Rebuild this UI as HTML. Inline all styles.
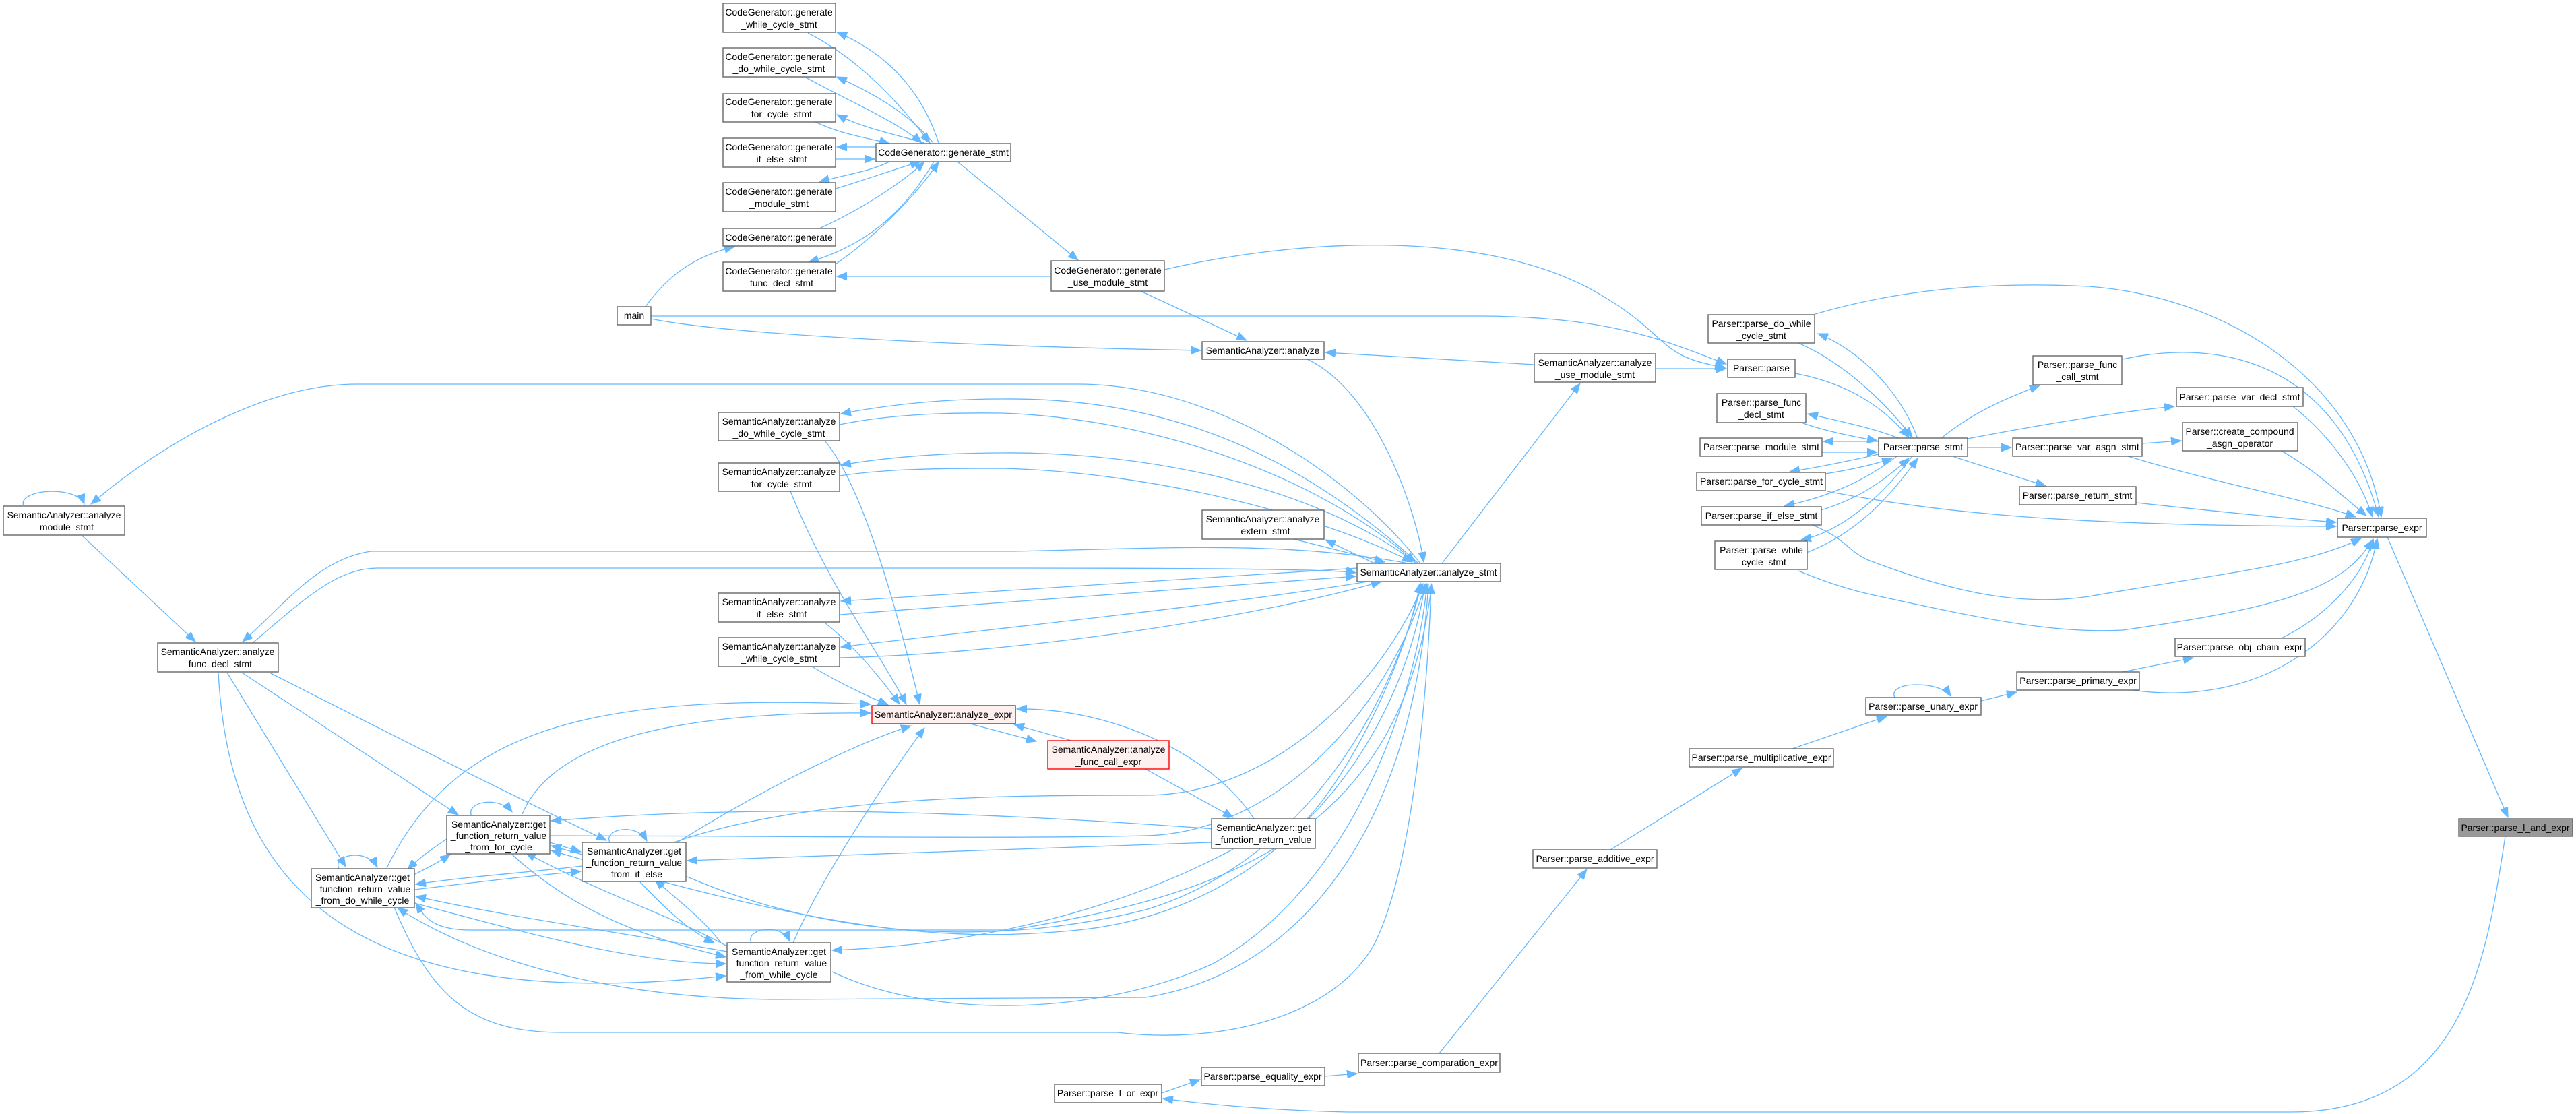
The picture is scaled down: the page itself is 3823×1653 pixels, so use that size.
<!DOCTYPE html>
<html><head><meta charset="utf-8"><style>
html,body{margin:0;padding:0;background:#fff;}
svg{display:block;}
text{font-family:"Liberation Sans",Arial,sans-serif;font-size:14px;fill:#000;text-anchor:middle;}
.n{fill:#fff;stroke:#666;stroke-width:1.4;}
.r{fill:#fff0f0;stroke:#f00;stroke-width:1.4;}
.g{fill:#999;stroke:#666;stroke-width:1.4;}
path{fill:none;stroke:#63b8ff;stroke-width:1.3;}
</style></head><body>
<svg width="3823" height="1653" viewBox="0 0 3823 1653" xmlns="http://www.w3.org/2000/svg">
<defs><marker id="a" markerUnits="userSpaceOnUse" markerWidth="16" markerHeight="12" refX="15" refY="6" orient="auto"><path d="M0,0 L15,6 L0,12 Z" style="fill:#63b8ff;stroke:#63b8ff;stroke-width:1"/></marker></defs>
<g marker-end="url(#a)">
<!-- CodeGenerator cluster -->
<path d="M1393,212 C1370,140 1320,80 1242,48"/>
<path d="M1199,49 C1280,90 1340,160 1380,212"/>
<path d="M1385,212 C1350,170 1300,140 1242,114"/>
<path d="M1196,115 C1260,150 1330,180 1368,212"/>
<path d="M1372,212 C1330,200 1280,190 1242,170"/>
<path d="M1210,181 C1250,200 1290,205 1320,213"/>
<path d="M1300,218 L1242,218"/>
<path d="M1240,236 L1298,236"/>
<path d="M1320,240 C1290,255 1250,260 1216,270"/>
<path d="M1240,280 C1290,265 1330,250 1366,240"/>
<path d="M1216,339 C1280,310 1340,270 1372,240"/>
<path d="M1386,240 C1350,300 1300,360 1200,389"/>
<path d="M1240,392 C1300,350 1360,290 1393,240"/>
<path d="M1421,240 L1600,386"/>
<path d="M1560,410 L1242,410"/>
<!-- main -->
<path d="M958,455 C990,410 1030,380 1090,366"/>
<path d="M966,469 L2200,469 C2400,470 2480,510 2562,540"/>
<path d="M966,473 C1100,500 1500,515 1782,520"/>
<path d="M1693,432 L1850,505"/>
<path d="M1728,400 C1900,360 2200,330 2380,440 C2480,500 2460,530 2560,545"/>
<path d="M2277,541 L1967,523"/>
<path d="M2457,547 L2562,547"/>
<path d="M1940,533 C2040,580 2100,750 2113,834"/>
<path d="M2140,836 L2345,569"/>
<!-- analyze_stmt hub to left nodes -->
<path d="M2108,836 C2000,700 1800,570 1600,570 L530,570 C400,570 250,650 135,748"/>
<path d="M2105,836 C1900,650 1700,590 1487,592 C1400,592 1320,600 1248,614"/>
<path d="M1246,630 C1320,615 1400,612 1487,613 C1700,620 1950,700 2100,834"/>
<path d="M2102,836 C1950,720 1700,670 1487,672 C1400,672 1320,678 1248,690"/>
<path d="M1246,706 C1320,695 1400,695 1487,695 C1700,700 1950,760 2096,834"/>
<path d="M2090,836 C1900,800 1700,815 1500,818 L550,818 C470,830 420,900 360,952"/>
<path d="M375,954 C450,890 500,843 560,843 L1500,843 C1800,843 1990,845 2012,850"/>
<path d="M2014,843 L1248,892"/>
<path d="M1246,912 L2012,855"/>
<path d="M2030,863 C1800,900 1500,930 1248,960"/>
<path d="M1246,976 C1500,970 1850,920 2050,863"/>
<path d="M1920,800 L2055,834"/>
<path d="M2040,836 L1967,801"/>
<!-- SAexpr -->
<path d="M1224,654 C1280,720 1330,900 1365,1045"/>
<path d="M1173,729 C1230,870 1300,960 1345,1045"/>
<path d="M1224,924 C1270,960 1310,1010 1335,1045"/>
<path d="M1205,989 C1240,1010 1280,1030 1318,1046"/>
<path d="M1440,1074 L1538,1100"/>
<path d="M1590,1099 L1505,1075"/>
<path d="M1861,1215 C1800,1120 1650,1050 1509,1052"/>
<path d="M1700,1141 L1830,1213"/>
<path d="M1940,1215 C2000,1150 2080,1000 2108,865"/>
<path d="M775,1208 C820,1100 1000,1055 1292,1058"/>
<path d="M574,1288 C680,1070 900,1030 1292,1045"/>
<path d="M1005,1250 C1150,1160 1280,1100 1352,1077"/>
<path d="M1177,1399 C1220,1300 1320,1150 1372,1080"/>
<!-- func_decl down -->
<path d="M122,795 L290,952"/>
<path d="M359,998 L680,1209"/>
<path d="M337,998 L513,1286"/>
<path d="M400,998 C600,1100 800,1200 900,1247"/>
<path d="M324,998 C340,1300 500,1510 1077,1448"/>
<!-- get cluster -->
<path d="M700,1211 C690,1190 740,1180 760,1205"/>
<path d="M905,1250 C895,1230 945,1220 960,1248"/>
<path d="M503,1289 C493,1268 545,1258 560,1287"/>
<path d="M1115,1399 C1105,1378 1160,1368 1172,1397"/>
<path d="M663,1245 C640,1260 620,1275 605,1290"/>
<path d="M610,1300 C630,1290 650,1280 668,1268"/>
<path d="M864,1268 L818,1255"/>
<path d="M816,1250 L862,1264"/>
<path d="M864,1285 C780,1295 700,1300 617,1312"/>
<path d="M615,1320 C700,1310 780,1300 862,1293"/>
<path d="M1079,1412 C900,1380 750,1360 617,1330"/>
<path d="M615,1340 C800,1390 950,1430 1077,1430"/>
<path d="M1079,1404 C1000,1360 900,1330 780,1265"/>
<path d="M760,1268 C850,1350 950,1390 1077,1420"/>
<path d="M1070,1399 C1040,1360 1010,1340 972,1305"/>
<path d="M950,1309 C990,1350 1020,1380 1060,1399"/>
<path d="M1830,1232 C1400,1200 1100,1195 818,1218"/>
<path d="M1798,1250 L1020,1277"/>
<path d="M1830,1260 C1700,1330 1500,1400 1235,1410"/>
<path d="M1020,1301 C1250,1400 1500,1400 1700,1350 C1900,1290 2050,1100 2110,866"/>
<path d="M2115,866 C2080,1100 1900,1350 1600,1380 C1400,1400 1220,1380 818,1262"/>
<path d="M1235,1442 C1400,1520 1650,1500 1800,1430 C2000,1320 2100,1050 2118,866"/>
<path d="M2120,866 C2100,1200 1950,1440 1700,1480 L1159,1483 C900,1483 700,1420 590,1347"/>
<path d="M584,1344 C640,1480 700,1532 834,1532 L1658,1532 C1810,1550 1980,1510 2040,1400 C2100,1280 2120,1000 2124,866"/>
<path d="M2125,866 C2080,1250 1800,1330 1500,1380 L700,1380 C640,1380 630,1360 617,1340"/>
<path d="M1000,1250 C1200,1180 1500,1180 1700,1180 C1900,1180 2060,1000 2112,866"/>
<path d="M816,1240 C1100,1240 1500,1245 1700,1240 C1900,1235 2060,1050 2116,866"/>
<!-- Parser side -->
<path d="M3543,797 L3722,1213"/>
<path d="M3718,1241 C3690,1420 3660,1650 3400,1650 L2000,1650 C1900,1648 1800,1640 1726,1630"/>
<path d="M1724,1622 L1781,1602"/>
<path d="M1966,1597 L2014,1593"/>
<path d="M2136,1563 L2355,1290"/>
<path d="M2390,1261 L2585,1140"/>
<path d="M2660,1111 L2800,1063"/>
<path d="M2812,1035 C2800,1010 2880,1010 2895,1033"/>
<path d="M2940,1040 L2993,1027"/>
<path d="M3150,997 L3255,976"/>
<path d="M3165,1024 C3350,1050 3500,950 3528,799"/>
<path d="M3386,947 C3460,910 3510,850 3522,799"/>
<path d="M2664,554 C2750,570 2800,610 2833,649"/>
<path d="M2846,651 C2820,580 2760,520 2698,495"/>
<path d="M2669,509 C2740,540 2800,600 2838,649"/>
<path d="M2820,651 C2780,635 2730,625 2683,614"/>
<path d="M2673,627 C2710,640 2750,648 2786,654"/>
<path d="M2788,655 L2706,655"/>
<path d="M2704,671 L2786,671"/>
<path d="M2788,674 C2740,685 2700,693 2656,700"/>
<path d="M2709,703 C2740,698 2780,690 2808,680"/>
<path d="M2815,677 C2760,720 2700,740 2648,751"/>
<path d="M2702,757 C2760,740 2800,710 2833,680"/>
<path d="M2838,677 C2790,740 2730,790 2673,801"/>
<path d="M2681,820 C2760,790 2810,730 2846,680"/>
<path d="M2880,651 C2930,610 2980,590 3027,572"/>
<path d="M2920,651 C3030,630 3150,610 3227,603"/>
<path d="M2920,664 L2985,664"/>
<path d="M3179,658 L3237,654"/>
<path d="M2900,678 L3036,721"/>
<path d="M2694,466 C2850,420 3000,420 3100,425 C3300,440 3500,560 3534,767"/>
<path d="M3150,533 C3300,500 3470,540 3530,767"/>
<path d="M3403,603 C3450,640 3500,700 3521,767"/>
<path d="M3386,669 C3440,700 3480,740 3512,765"/>
<path d="M3158,677 C3300,720 3420,740 3496,767"/>
<path d="M3171,746 C3300,760 3400,770 3467,775"/>
<path d="M2711,729 C2900,765 3100,780 3467,781"/>
<path d="M2690,779 C2740,800 2740,815 2770,830 C2900,880 3000,900 3100,885 C3300,850 3420,840 3504,799"/>
<path d="M2669,847 C2700,860 2740,875 2790,885 C2950,920 3050,940 3150,935 C3400,900 3480,870 3521,801"/>
</g>

<!-- Nodes -->
<g>
<rect class="n" x="1073" y="5" width="167" height="43"/><text x="1156" y="23">CodeGenerator::generate</text><text x="1156" y="41">_while_cycle_stmt</text>
<rect class="n" x="1073" y="71" width="167" height="43"/><text x="1156" y="89">CodeGenerator::generate</text><text x="1156" y="107">_do_while_cycle_stmt</text>
<rect class="n" x="1073" y="139" width="167" height="42"/><text x="1156" y="156">CodeGenerator::generate</text><text x="1156" y="174">_for_cycle_stmt</text>
<rect class="n" x="1073" y="205" width="167" height="43"/><text x="1156" y="223">CodeGenerator::generate</text><text x="1156" y="241">_if_else_stmt</text>
<rect class="n" x="1073" y="271" width="167" height="43"/><text x="1156" y="289">CodeGenerator::generate</text><text x="1156" y="307">_module_stmt</text>
<rect class="n" x="1073" y="339" width="167" height="26"/><text x="1156" y="357">CodeGenerator::generate</text>
<rect class="n" x="1073" y="389" width="167" height="43"/><text x="1156" y="407">CodeGenerator::generate</text><text x="1156" y="425">_func_decl_stmt</text>
<rect class="n" x="1300" y="213" width="200" height="27"/><text x="1400" y="231">CodeGenerator::generate_stmt</text>
<rect class="n" x="916" y="455" width="50" height="27"/><text x="941" y="473">main</text>
<rect class="n" x="1560" y="387" width="168" height="45"/><text x="1644" y="406">CodeGenerator::generate</text><text x="1644" y="424">_use_module_stmt</text>
<rect class="n" x="1784" y="507" width="181" height="26"/><text x="1874" y="525">SemanticAnalyzer::analyze</text>
<rect class="n" x="2277" y="525" width="180" height="42"/><text x="2367" y="543">SemanticAnalyzer::analyze</text><text x="2367" y="561">_use_module_stmt</text>
<rect class="n" x="2564" y="533" width="100" height="27"/><text x="2614" y="551">Parser::parse</text>
<rect class="n" x="1066" y="612" width="180" height="42"/><text x="1156" y="630">SemanticAnalyzer::analyze</text><text x="1156" y="648">_do_while_cycle_stmt</text>
<rect class="n" x="1066" y="687" width="180" height="42"/><text x="1156" y="705">SemanticAnalyzer::analyze</text><text x="1156" y="723">_for_cycle_stmt</text>
<rect class="n" x="5" y="751" width="180" height="43"/><text x="95" y="769">SemanticAnalyzer::analyze</text><text x="95" y="787">_module_stmt</text>
<path d="M35,751 C25,725 115,720 125,748" marker-end="url(#a)"/>
<rect class="n" x="1784" y="757" width="181" height="43"/><text x="1874" y="775">SemanticAnalyzer::analyze</text><text x="1874" y="793">_extern_stmt</text>
<rect class="n" x="2014" y="836" width="213" height="27"/><text x="2120" y="854">SemanticAnalyzer::analyze_stmt</text>
<rect class="n" x="234" y="954" width="179" height="43"/><text x="323" y="972">SemanticAnalyzer::analyze</text><text x="323" y="990">_func_decl_stmt</text>
<rect class="n" x="1066" y="880" width="180" height="43"/><text x="1156" y="898">SemanticAnalyzer::analyze</text><text x="1156" y="916">_if_else_stmt</text>
<rect class="n" x="1066" y="946" width="180" height="43"/><text x="1156" y="964">SemanticAnalyzer::analyze</text><text x="1156" y="982">_while_cycle_stmt</text>
<rect class="r" x="1294" y="1047" width="213" height="27"/><text x="1400" y="1065">SemanticAnalyzer::analyze_expr</text>
<rect class="r" x="1555" y="1099" width="180" height="42"/><text x="1645" y="1117">SemanticAnalyzer::analyze</text><text x="1645" y="1135">_func_call_expr</text>
<rect class="n" x="1798" y="1215" width="154" height="44"/><text x="1875" y="1233">SemanticAnalyzer::get</text><text x="1875" y="1251">_function_return_value</text>
<rect class="n" x="663" y="1210" width="153" height="57"/><text x="740" y="1228">SemanticAnalyzer::get</text><text x="740" y="1245">_function_return_value</text><text x="740" y="1262">_from_for_cycle</text>
<rect class="n" x="864" y="1250" width="154" height="58"/><text x="941" y="1268">SemanticAnalyzer::get</text><text x="941" y="1285">_function_return_value</text><text x="941" y="1302">_from_if_else</text>
<rect class="n" x="462" y="1289" width="153" height="58"/><text x="538" y="1307">SemanticAnalyzer::get</text><text x="538" y="1324">_function_return_value</text><text x="538" y="1341">_from_do_while_cycle</text>
<rect class="n" x="1079" y="1399" width="154" height="58"/><text x="1156" y="1417">SemanticAnalyzer::get</text><text x="1156" y="1434">_function_return_value</text><text x="1156" y="1451">_from_while_cycle</text>
<rect class="n" x="2275" y="1261" width="184" height="27"/><text x="2367" y="1279">Parser::parse_additive_expr</text>
<rect class="n" x="2016" y="1563" width="210" height="28"/><text x="2121" y="1582">Parser::parse_comparation_expr</text>
<rect class="n" x="1783" y="1584" width="183" height="27"/><text x="1874" y="1602">Parser::parse_equality_expr</text>
<rect class="n" x="1565" y="1609" width="159" height="27"/><text x="1644" y="1627">Parser::parse_l_or_expr</text>
<rect class="n" x="2507" y="1111" width="214" height="27"/><text x="2614" y="1129">Parser::parse_multiplicative_expr</text>
<rect class="n" x="2535" y="467" width="158" height="42"/><text x="2614" y="485">Parser::parse_do_while</text><text x="2614" y="503">_cycle_stmt</text>
<rect class="n" x="2548" y="584" width="132" height="43"/><text x="2614" y="602">Parser::parse_func</text><text x="2614" y="620">_decl_stmt</text>
<rect class="n" x="2523" y="650" width="181" height="27"/><text x="2614" y="668">Parser::parse_module_stmt</text>
<rect class="n" x="2788" y="650" width="132" height="27"/><text x="2854" y="668">Parser::parse_stmt</text>
<rect class="n" x="2518" y="701" width="191" height="27"/><text x="2614" y="719">Parser::parse_for_cycle_stmt</text>
<rect class="n" x="2525" y="752" width="178" height="27"/><text x="2614" y="770">Parser::parse_if_else_stmt</text>
<rect class="n" x="2545" y="803" width="137" height="42"/><text x="2614" y="821">Parser::parse_while</text><text x="2614" y="839">_cycle_stmt</text>
<rect class="n" x="3017" y="528" width="132" height="43"/><text x="3083" y="546">Parser::parse_func</text><text x="3083" y="564">_call_stmt</text>
<rect class="n" x="3230" y="575" width="188" height="28"/><text x="3324" y="594">Parser::parse_var_decl_stmt</text>
<rect class="n" x="3239" y="627" width="171" height="42"/><text x="3324" y="645">Parser::create_compound</text><text x="3324" y="663">_asgn_operator</text>
<rect class="n" x="2987" y="650" width="192" height="27"/><text x="3083" y="668">Parser::parse_var_asgn_stmt</text>
<rect class="n" x="2997" y="722" width="173" height="27"/><text x="3083" y="740">Parser::parse_return_stmt</text>
<rect class="n" x="3469" y="769" width="132" height="28"/><text x="3535" y="788">Parser::parse_expr</text>
<rect class="n" x="3228" y="947" width="193" height="27"/><text x="3324" y="965">Parser::parse_obj_chain_expr</text>
<rect class="n" x="2993" y="997" width="182" height="27"/><text x="3084" y="1015">Parser::parse_primary_expr</text>
<rect class="n" x="2769" y="1035" width="171" height="26"/><text x="2854" y="1053">Parser::parse_unary_expr</text>
<rect class="g" x="3649" y="1215" width="169" height="26"/><text x="3733" y="1233">Parser::parse_l_and_expr</text>
</g>
</svg>
</body></html>
